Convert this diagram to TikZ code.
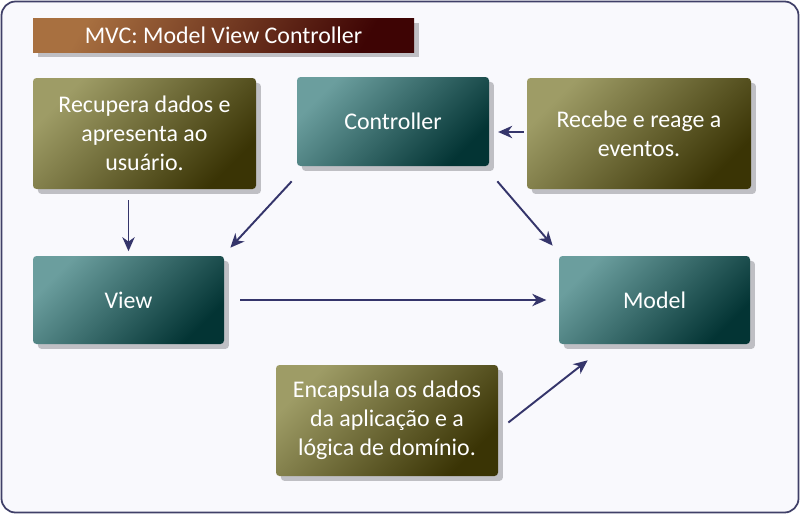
\documentclass[tikz,border=0pt]{standalone}
\usepackage{fontspec}
\setmainfont{Carlito}
\usetikzlibrary{arrows.meta}
\usetikzlibrary{shadows}
\tikzset{>={Stealth[length=8pt,width=7pt,inset=2.5pt]}}
\definecolor{bgfill}{HTML}{F9F9FD}
\definecolor{bgline}{HTML}{404068}
\definecolor{teallight}{HTML}{6B9E9E}
\definecolor{tealdark}{HTML}{033434}
\definecolor{olivelight}{HTML}{9E9C66}
\definecolor{olivedark}{HTML}{3A3405}
\definecolor{titlelight}{HTML}{A87040}
\definecolor{titledark}{HTML}{3E0404}
\definecolor{arrowblue}{HTML}{35356B}
\definecolor{shadowgray}{HTML}{BFBFC4}
\def\px{0.02cm}
\tikzstyle{box}=[rounded corners=2pt,inner sep=0pt,align=center,text=white,
  font=\fontsize{13.6}{16.5}\selectfont,
  drop shadow={shadow xshift=2.8pt,shadow yshift=-2.8pt,fill=shadowgray,opacity=1}]
\tikzstyle{tealbox}=[box,top color=teallight,bottom color=tealdark,shading angle=45]
\tikzstyle{olivebox}=[box,top color=olivelight,bottom color=olivedark,shading angle=45]
\tikzstyle{titlebox}=[box,rounded corners=0pt,top color=titlelight,bottom color=titledark,shading angle=60]
\tikzstyle{link}=[->,arrowblue,line width=1.1pt]

\begin{document}
\begin{tikzpicture}[x=\px,y=-\px]
  \useasboundingbox (0,0) rectangle (800,514);
  % FRAME
  \draw[bgline,fill=bgfill,line width=1pt,rounded corners=8pt]
    (1.5,1.5) rectangle (798.5,512.5);

  % TITLE
  \node[titlebox,minimum width=381*\px,minimum height=34*\px] (title)
    at (223.5,35) {MVC: Model View Controller};

  % MVC BOXES
  \node[tealbox,minimum width=192*\px,minimum height=89*\px] (ctrl)
    at (393,121.5) {Controller};
  \node[tealbox,minimum width=191*\px,minimum height=88*\px] (view)
    at (128.5,300) {View};
  \node[tealbox,minimum width=191*\px,minimum height=88*\px] (model)
    at (654.5,300) {Model};

  % NOTES
  \node[olivebox,minimum width=223*\px,minimum height=111*\px] (recupera)
    at (144.5,133.5) {Recupera dados e\\apresenta ao\\usuário.};
  \node[olivebox,minimum width=224*\px,minimum height=111*\px] (recebe)
    at (639,133.5) {Recebe e reage a\\eventos.};
  \node[olivebox,minimum width=222*\px,minimum height=111*\px] (encap)
    at (387,420.5) {Encapsula os dados\\da aplicação e a\\lógica de domínio.};

  % ARROWS
  \draw[link,shorten <=6.2pt,shorten >=2.5pt]
    (view.north |- recupera.south) -- (view.north);
  \draw[link] ([shift={(-5,15)}]ctrl.south west) -- ([shift={(6,-8)}]view.north east);
  \draw[link] ([shift={(8,15)}]ctrl.south east) -- ([shift={(-6,-10)}]model.north west);
  \draw[link,shorten <=1.7pt,shorten >=5pt]
    ([yshift=1.5*\px]recebe.west) -- ([yshift=1.5*\px]recebe.west -| ctrl.east);
  \draw[link,shorten <=9pt,shorten >=7pt] (view.east) -- (model.west);
  \draw[link] ([shift={(10,2)}]encap.east) -- ([shift={(29,16)}]model.south west);
\end{tikzpicture}
\end{document}
